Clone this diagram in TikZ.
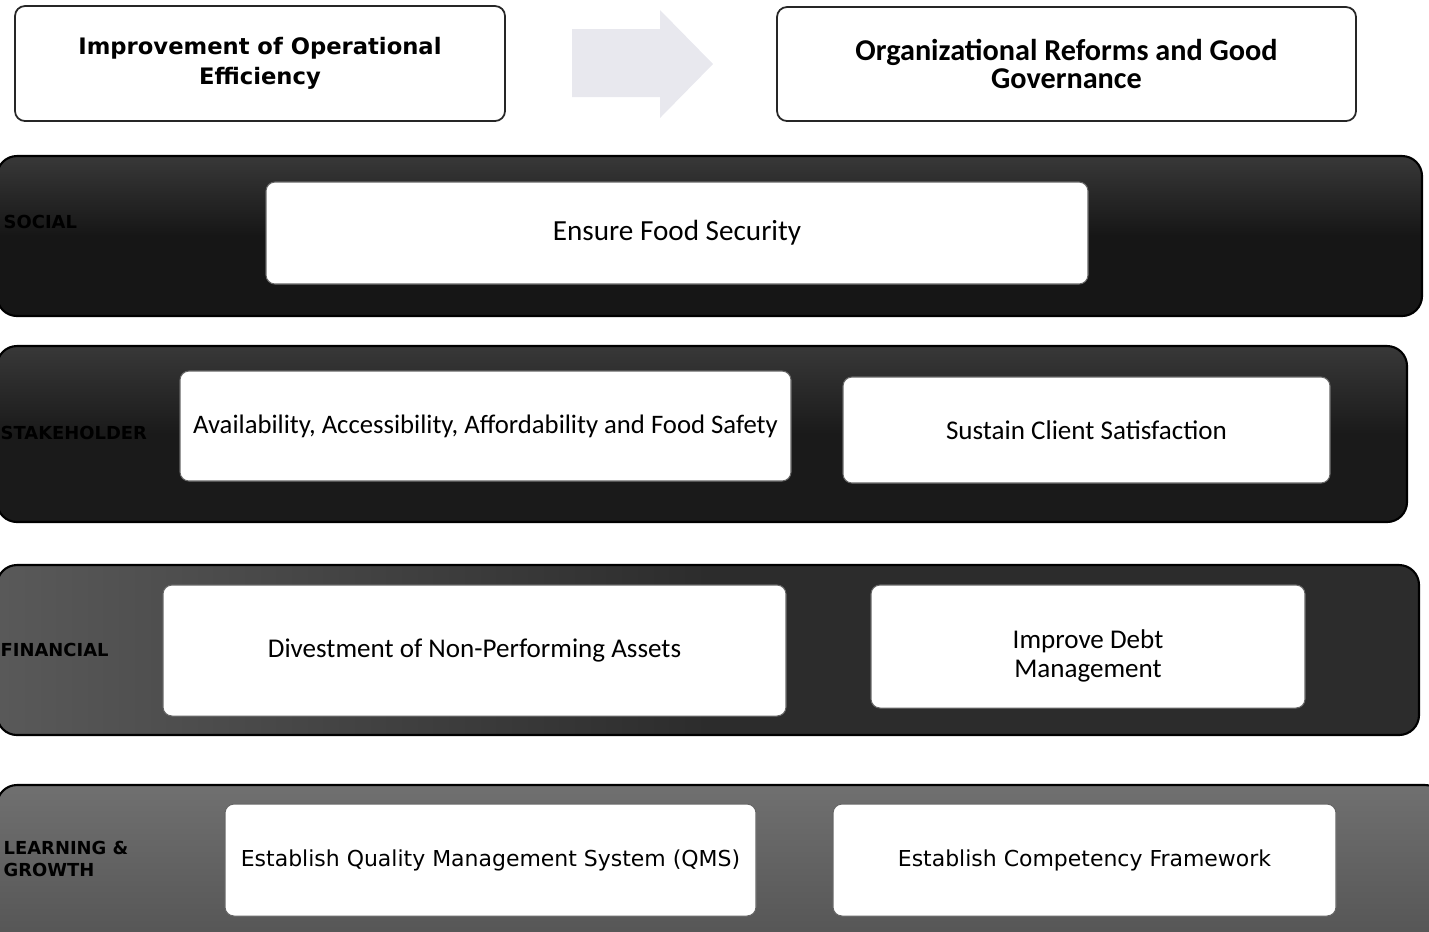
\documentclass[tikz,border=0pt]{standalone}
\usepackage{fontspec}
\setmainfont{Carlito}
\newfontfamily\verd{DejaVu Sans}
\usepackage{tikz}
\usetikzlibrary{calc}
\definecolor{arrowgray}{RGB}{232,232,238}
\definecolor{bandA}{RGB}{22,22,22}
\definecolor{bandB}{RGB}{26,26,26}
\definecolor{bandC}{RGB}{44,44,44}
\definecolor{bandD}{RGB}{112,112,112}

\begin{document}
\begin{tikzpicture}[
  band/.style={draw=black, line width=0.6pt, rounded corners=0.2cm},
  topbox/.style={draw=black!85, line width=0.5pt, rounded corners=0.1cm, fill=white, align=center,
    font=\verd\bfseries\fontsize{6.45}{8}\selectfont},
  inbox/.style={draw=black!60, line width=0.3pt, rounded corners=0.09cm, fill=white, align=center,
    inner sep=0pt, font=\fontsize{7.7}{8.2}\selectfont},
  lbl/.style={anchor=west, align=left, text=black, inner sep=0pt,
    font=\verd\bfseries\fontsize{5.1}{6.2}\selectfont}
]
\useasboundingbox (0,0) rectangle (14.29,-9.31);

% top row
\node (eff) at (2.60,-0.635) [topbox, minimum width=4.90cm, minimum height=1.15cm]
  {\raisebox{0.5pt}{Improvement of Operational}\\Efficiency};
\node (gov) at (10.665,-0.64) [topbox, minimum width=5.79cm, minimum height=1.14cm,
  font=\bfseries\fontsize{8.6}{8}\selectfont] {Organizational Reforms and Good\\Governance};
\fill [arrowgray] (5.72,-0.29) -- (6.60,-0.29) -- (6.60,-0.10) -- (7.13,-0.64)
  -- (6.60,-1.18) -- (6.60,-0.97) -- (5.72,-0.97) -- cycle;

% bands
\draw [band, top color=black!78, bottom color=bandA, middle color=bandA] (-0.03,-1.56) rectangle (14.22,-3.16);
\draw [band, top color=black!78, bottom color=bandB, middle color=bandB] (-0.03,-3.46) rectangle (14.07,-5.22);
\draw [band, left color=black!65, right color=bandC, middle color=bandC] (-0.03,-5.65) rectangle (14.19,-7.35);
\draw [band, top color=bandD, bottom color=black!68] (-0.03,-7.85) rectangle (14.45,-9.60);

\node (social) at (0.03,-2.22) [lbl] {SOCIAL};
\node (stake) at (0.0,-4.33) [lbl] {STAKEHOLDER};
\node (finance) at (0.0,-6.50) [lbl] {FINANCIAL};
\node (learn) at (0.03,-8.59) [lbl] {LEARNING \&\\GROWTH};

% objectives
\node (food) at (6.77,-2.33) [inbox, minimum width=8.22cm, minimum height=1.02cm,
  font=\fontsize{8.3}{9}\selectfont] {\raisebox{-0.6pt}{Ensure Food Security}};
\node (avail) at (4.855,-4.26) [inbox, minimum width=6.11cm, minimum height=1.10cm, font=\fontsize{7.6}{8.3}\selectfont]
  {Availability, Accessibility, Affordability and Food Safety};
\node (client) at (10.865,-4.30) [inbox, minimum width=4.87cm, minimum height=1.06cm] {Sustain Client Satisfaction};
\node (divest) at (4.745,-6.505) [inbox, minimum width=6.23cm, minimum height=1.31cm]
  {Divestment of Non-Performing Assets};
\node (debt) at (10.88,-6.465) [inbox, minimum width=4.34cm, minimum height=1.23cm]
  {\raisebox{-2.7pt}[\height][\depth]{Improve Debt}\\\raisebox{-2.7pt}[\height][\depth]{Management}};
\node (qms) at (4.905,-8.60) [inbox, minimum width=5.31cm, minimum height=1.12cm, font=\verd\fontsize{6.25}{7.6}\selectfont]
  {Establish Quality Management System (QMS)};
\node (comp) at (10.845,-8.60) [inbox, minimum width=5.03cm, minimum height=1.12cm, font=\verd\fontsize{6.25}{7.6}\selectfont]
  {Establish Competency Framework};
\end{tikzpicture}
\end{document}
